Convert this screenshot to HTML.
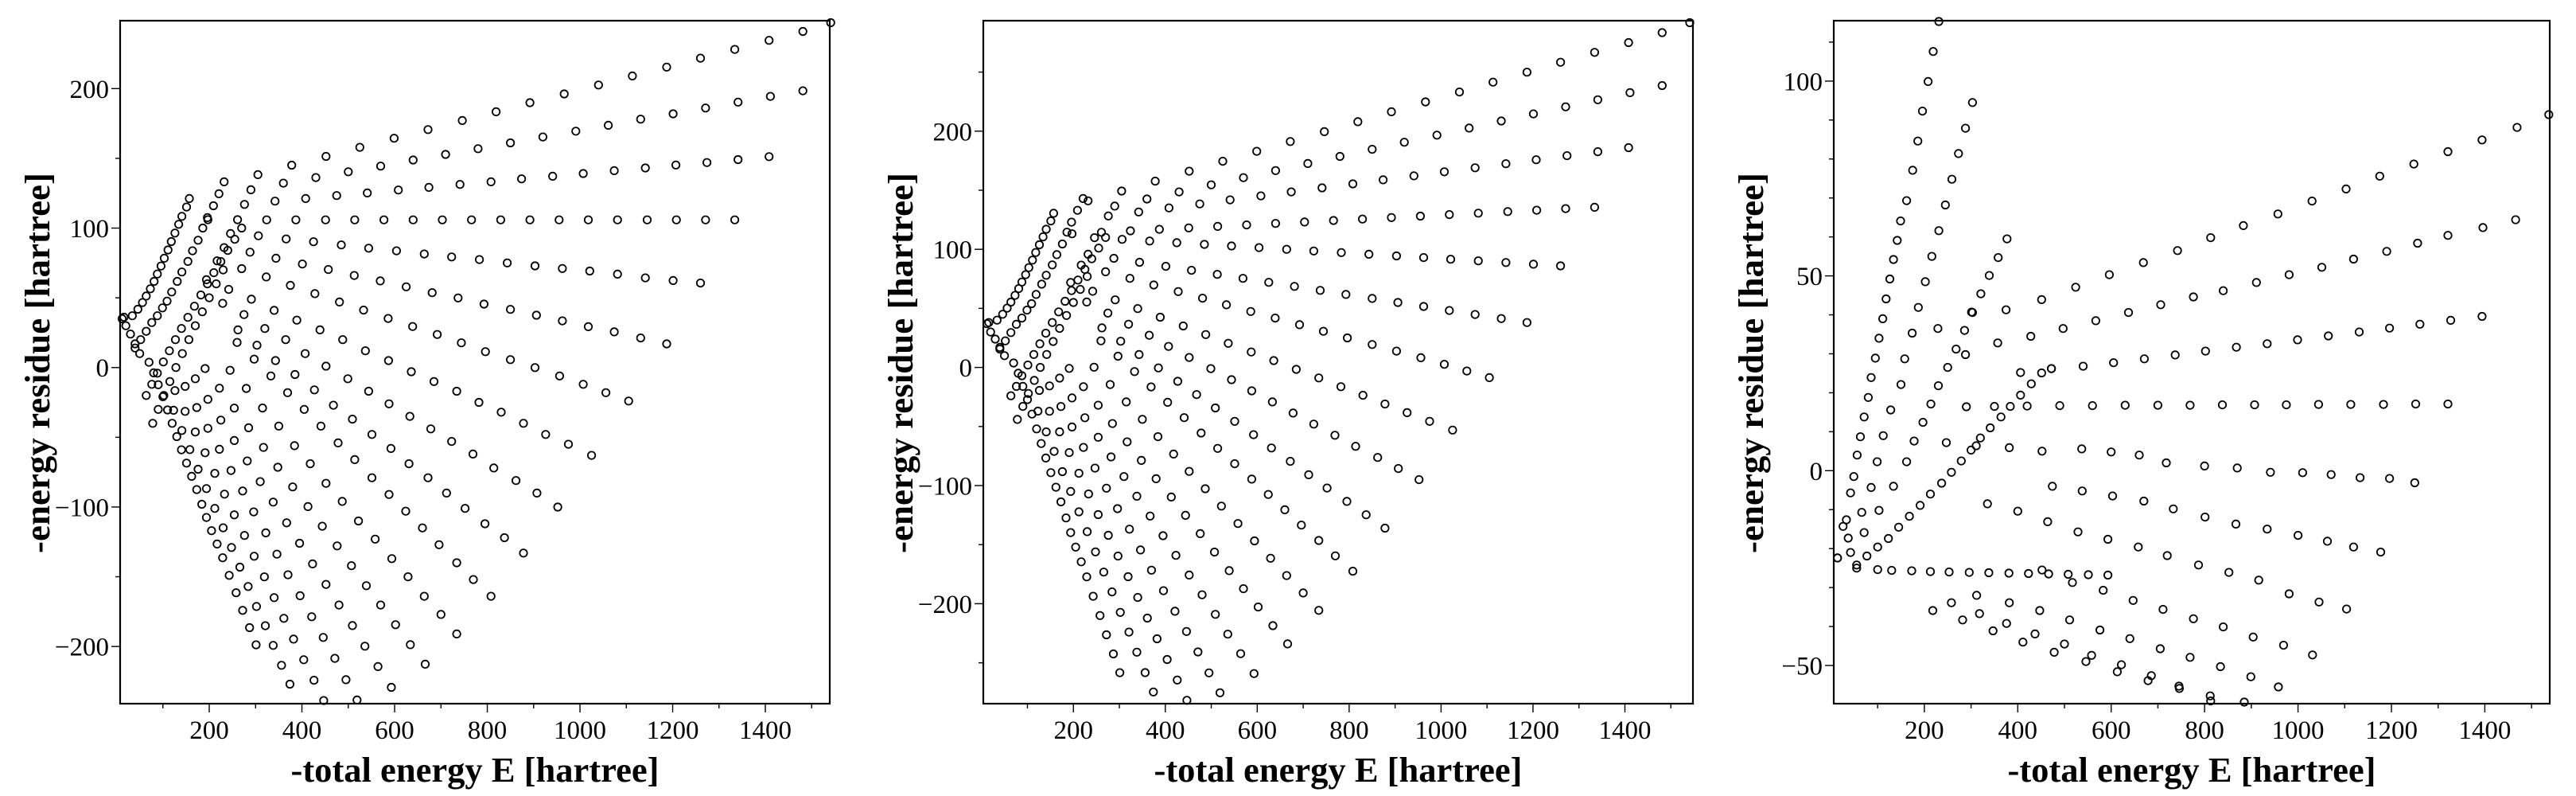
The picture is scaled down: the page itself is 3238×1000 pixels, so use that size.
<!DOCTYPE html>
<html><head><meta charset="utf-8">
<style>
html,body{margin:0;padding:0;background:#fff;}
svg{display:block;}
text{font-family:"Liberation Serif","DejaVu Serif",serif;fill:#000;}
.tick{font-size:33px;}
.title{font-size:44px;font-weight:bold;}
</style></head>
<body>
<svg id="fig" xmlns="http://www.w3.org/2000/svg" width="3238" height="1000" viewBox="0 0 3238 1000">
<rect x="0" y="0" width="3238" height="1000" fill="#fff"/>
</svg>
<script>
// ---------- shared tick labels ----------
const xTickValues = [200,400,600,800,1000,1200,1400];
const yTicksWide = [-200,-100,0,100,200];
const yTicksNarrow = [-50,0,50,100];

// ---------- energies shared by panel 1 and 2 ----------
const eRay1 = [1541,1481,1408,1334,1260,1187,1113,1040,966,892,819,746,672,599,525,452,378,305,232];
const eRay2 = [1481,1411,1341,1271,1201,1131,1061,991,920,850,780,710,640,570,500,430,360,290];
const eRay3 = [1408,1341,1274,1207,1141,1074,1007,941,874,808,741,674,608,541,475,408,342,276];
const eRay4 = [1334,1271,1208,1145,1081,1018,955,892,829,766,703,640,577,514,451,387,324,261,197];
const eRay5 = [1260,1201,1141,1081,1021,962,903,843,783,723,664,604,544,485,425,366,306,246];
const eRay6 = [1187,1131,1074,1018,962,906,850,793,737,681,625,569,513,457,401,344,288,232];
const eRay7 = [1105,1056,1007,956,903,850,796,744,692,639,586,533,481,428,375,323,270,217];
const eRay8 = [1025,975,926,878,830,782,734,685,636,587,537,488,439,389,340,291,242,194];
const eRay9 = [952,907,862,814,769,723,678,633,588,544,499,452,407,365,320,275,229];
const eRay10 = [878,837,795,752,712,672,631,592,551,509,468,427,385,343,303,262];
const eRay11 = [808,770,734,696,660,624,588,551,514,478,441,405,369,333,297,260];
const eRay12 = [734,700,664,629,594,558,522,487,452,418,384,350,315,280,245];
const eRay13 = [666,634,602,570,539,507,476,444,413,380,348,317,285,254,222,191];
const eRay14 = [593,564,536,509,480,452,423,395,367,338,310,282,254,225,197,170];
const eRay15 = [519,495,471,446,421,396,370,346,322,296,272,247,222,197,173,148];
const eRay16 = [447,426,404,382,361,340,319,297,276,254,233,212,191,170,148,126];
const eRay17 = [374,356,338,321,302,284,266,248,230,212,194,176,158,141,123];
const eRay18 = [301,287,272,258,243,229,217,205,194,184,173,162,151,140,130,120,110,100,90,80,70];
const eS1 = [157,151,141,134,126,118,111,103,96,88,81,73,64,56,46,34,16];
const eS2 = [221,209,196,186,176,164,154,141,131,119,109,99,88,76,64,52,40];
const eS3 = [270,255,240,225,210,196,182,168,154,140,127,114,101,88,76,64];
const eS4 = [230,215,200,185,170,156,142,128,115,102,90,78];
const eL = [50,40,30,20,12];

// ---------- panel 1 residues ----------
const p1Ray1 = [247.3,241,234.6,228.1,221.8,215.4,209.1,202.6,196.2,189.9,183.4,177.1,170.6,164.4,157.9,151.4,145.1,138.3,133.2];
const p1Ray2 = [198.4,194.4,190.3,186.1,181.9,178.1,173.7,169.5,165.3,161.1,156.9,152.8,148.8,144.4,140.4,136.2,132.2,127.5];
const p1Ray3 = [151.2,149.1,147.0,145.2,143.1,141.2,139.1,137.2,135.3,133.2,131.3,129.2,127.3,125.2,123.3,121.2,119.3,117.0];
const p1Ray4 = [105.9,105.9,105.9,105.9,105.9,105.9,105.9,105.9,105.9,105.9,105.9,105.9,105.9,105.9,105.9,105.9,105.9,106,106];
const p1Ray5 = [60.6,62.4,64.3,67.0,69.2,71.0,72.9,75.0,77.4,79.3,81.4,83.7,85.6,87.9,90.2,92.2,94.5,96.1];
const p1Ray6 = [17.0,21.2,25.6,29.3,33.5,37.5,41.7,45.5,49.9,53.7,57.9,62.1,66.0,70.3,74.2,78.4,82.7,86.0];
const p1Ray7 = [-24,-18,-12,-6,-0.05,5.7,11.4,17.7,23.7,29.4,35.2,41.2,47.0,53.0,58.9,65.0,70.9,76.5];
const p1Ray8 = [-63,-55,-48,-40,-32,-25,-17,-10,-3,5,12,20,27,34,41,49,56,63];
const p1Ray9 = [-100,-90,-81,-72,-62,-53,-44,-35,-26,-17,-8,1,10,20,28,38,46];
const p1Ray10 = [-133,-122,-112,-101,-90,-79,-69,-58,-48,-37,-27,-16,-5,5,16,27];
const p1Ray11 = [-164,-152,-140,-127,-115,-103,-91,-79,-66,-54,-42,-30,-18,-6,6,18];
const p1Ray12 = [-191,-177,-164,-150,-137,-123,-110,-96,-83,-69,-56,-42,-29,-15,-2];
const p1Ray13 = [-212.7,-198.7,-184.4,-170.3,-156.4,-142.1,-127.9,-113.8,-99.7,-85.6,-71.5,-57.3,-43.2,-29.1,-14.8,-0.7];
const p1Ray14 = [-229.3,-214.4,-199.8,-185,-170.3,-155.5,-140.8,-126,-111.3,-96.5,-81.8,-67,-52.3,-37.7,-22.8,-8];
const p1Ray15 = [-238.4,-223.8,-208.5,-193.5,-178.7,-163.6,-148.6,-133.8,-118.5,-103.5,-88.5,-73.8,-58.6,-43.6,-28.7,-13.5];
const p1Ray16 = [-238.8,-224.2,-209.5,-194.7,-179.8,-165,-150.1,-135.3,-120.4,-105.6,-90.8,-75.9,-61.1,-46.2,-31.4,-16.5];
const p1Ray17 = [-227,-213.5,-199.2,-185.1,-171.3,-157,-143.1,-129,-114.9,-101,-86.8,-72.9,-58.8,-45.1,-30.6];
const p1Ray18 = [-198.8,-186.5,-174.1,-161.5,-149,-136.4,-126.5,-117,-107.5,-98,-87.5,-78,-68.5,-59,-49.5,-40,-30.4,-20.9,-12.3,-3.8,3.8];
const p1S1 = [121.2,115.1,108.4,102.7,96.4,90.3,84.3,78.4,72.8,67.1,61.8,56.5,51.3,46.6,41.8,37.1,36.1];
const p1S2 = [124.6,116,107.5,100,91.3,83.7,76.1,68.5,61.8,54.2,47.6,42.8,37.1,32.3,26,20,14];
const p1S3 = [100,92,84,76,68,60,52,44,36,28,20,12,4,-4,-12,-20];
const p1S4 = [70,60,50,40,30,20,10,0,-10,-20,-30,-40];
const p1L = [10,17,24,30,35];

// ---------- panel 2 residues ----------
const p2Ray1 = [291.8,283.4,275.0,266.7,258.3,249.9,241.5,233.1,224.8,216.4,208.0,199.6,191.2,182.9,174.5,166.1,157.7,149.3,141.0];
const p2Ray2 = [238.6,232.6,226.6,220.6,214.6,208.6,202.6,196.6,190.6,184.6,178.6,172.6,166.6,160.6,154.6,148.6,142.6,136.6];
const p2Ray3 = [186,182.6,179.2,175.8,172.4,169,165.6,162.2,158.8,155.4,152,148.6,145.2,141.8,138.4,135,131.6,128.2];
const p2Ray4 = [135.6,134.4,133.1,131.9,130.6,129.4,128.1,126.9,125.6,124.4,123.1,121.9,120.6,119.4,118.1,116.9,115.6,114.4,113.1];
const p2Ray5 = [86,87.4,88.8,90.2,91.6,93,94.4,95.8,97.2,98.6,100,101.4,102.8,104.2,105.6,107,108.4,109.8];
const p2Ray6 = [38,41.4,44.8,48.2,51.6,55,58.4,61.8,65.2,68.6,72,75.4,78.8,82.2,85.6,89,92.4,95.8];
const p2Ray7 = [-8.6,-3,2.6,8.2,13.8,19.4,25,30.6,36.2,41.8,47.4,53,58.6,64.2,69.8,75.4,81,86.6];
const p2Ray8 = [-53,-45.6,-38.3,-31,-23.6,-16.3,-8.9,-1.6,5.8,13.1,20.4,27.8,35.1,42.5,49.8,57.2,64.5,71.9];
const p2Ray9 = [-95,-85.6,-76.2,-66.8,-57.4,-48,-38.6,-29.2,-19.8,-10.4,-1,8.4,17.8,27.2,36.6,46,55.4];
const p2Ray10 = [-136,-124.7,-113.4,-102.1,-90.8,-79.5,-68.2,-56.9,-45.6,-34.3,-23,-11.7,-0.4,10.9,22.2,33.5];
const p2Ray11 = [-172.5,-159.5,-146.5,-133.5,-120.5,-107.5,-94.5,-81.5,-68.5,-55.5,-42.5,-29.5,-16.5,-3.5,9.5,22.5];
const p2Ray12 = [-205.6,-190.9,-176.2,-161.5,-146.8,-132.1,-117.4,-102.7,-88,-73.3,-58.6,-43.9,-29.2,-14.5,0.2];
const p2Ray13 = [-234,-218.6,-202.8,-187.3,-172,-156.3,-140.7,-125.2,-109.7,-94.2,-78.7,-63,-47.5,-32,-16.3,-0.8];
const p2Ray14 = [-259.1,-242.3,-225.8,-209,-192.4,-175.7,-159.1,-142.4,-125.8,-109,-92.4,-75.7,-59.1,-42.6,-25.8,-9];
const p2Ray15 = [-275.4,-258.5,-240.8,-223.5,-206.4,-189,-171.6,-154.5,-136.9,-119.5,-102.2,-85.2,-67.7,-50.4,-33.1,-15.6];
const p2Ray16 = [-281.8,-264.6,-247.2,-229.7,-212.2,-194.7,-177.1,-159.7,-142.1,-124.6,-107.1,-89.6,-72.1,-54.5,-37.1,-19.5];
const p2Ray17 = [-274.7,-258.3,-241,-224,-207.3,-190,-173.2,-156.1,-139,-122.2,-105,-88.2,-71.1,-54.6,-37];
const p2Ray18 = [-258.4,-242.5,-226.3,-210,-193.7,-177.3,-164.5,-152.1,-139.8,-127.4,-113.8,-101.4,-89.1,-76.7,-64.4,-52,-39.5,-27.2,-16,-4.9,3.8];
const p2S1 = [130.5,124,117,110.5,103.8,97.3,90.8,84.5,78.5,72.3,66.7,61,55.3,50.2,45,40,38];
const p2S2 = [143,133,123,114.5,104.5,95.5,86.8,78,70.5,61.8,54,48.5,41.8,36.5,29.5,22.5,15.5];
const p2S3 = [110,101,92,83,74,65,56,47,38,29,20,11,2,-7,-16,-24];
const p2S4 = [77,66,55,44,33,22,11,0,-11,-22,-33,-44];
const p2L = [10,17,24,30,37];

// ---------- panel 3 (own energies + residues) ----------
const q1E = [1537,1469,1394,1321,1248,1175,1103,1030,957,883,813,742,669,596,524,451,375,301,229];
const q1R = [91.4,88.1,84.9,81.9,78.7,75.6,72.3,69.2,65.9,62.9,59.8,56.5,53.4,50.3,47.1,43.9,41.3,40.7,36.5];
const q2E = [1466,1396,1321,1256,1190,1119,1051,981,911,840,776,706,637,567,497,428,357,288];
const q2R = [64.4,62.4,60.4,58.4,56.3,54.3,52.2,50.3,48.3,46.2,44.6,42.6,40.6,38.5,36.5,34.5,32.8,29.8];
const q3E = [1394,1327,1261,1196,1131,1065,999,934,868,802,737,671,605,540,472,406];
const q3R = [39.6,38.6,37.6,36.6,35.6,34.6,33.6,32.6,31.7,30.7,29.7,28.7,27.7,26.8,26.2,25.2];
const q4E = [1321,1252,1183,1113,1044,975,907,838,769,700,630,560,490,420,350,290];
const q4R = [17.1,17.1,17,17,17,16.9,16.9,16.9,16.8,16.8,16.8,16.7,16.7,16.6,16.5,16.4];
const zE = [1250,1196,1133,1071,1010,941,870,800,718,660,600,537,452,382,311,247];
const zR = [-3.1,-2,-1.8,-1,-0.5,-0.4,0.7,1.2,2,4,4.8,5.6,5,5.9,6.4,7.2];
const d1E = [1177,1119,1063,1000,934,867,801,733,670,603,538,474];
const d1R = [-20.9,-19.6,-18.1,-16.6,-15,-13.7,-11.9,-9.8,-7.8,-6.5,-5.2,-4];
const d2E = [1104,1045,981,916,852,787,720,658,593,529,464,400,335];
const d2R = [-35.5,-33.7,-31.6,-28.1,-26.1,-24.2,-21.8,-19.6,-17.6,-15.7,-13.1,-10.4,-8.5];
const d3E = [1031,969,904,840,776,711,647,583,517,452];
const d3R = [-47.3,-44.8,-42.7,-40.1,-38,-35.6,-33.3,-30.7,-28.7,-25.5];
const d4E = [958,899,834,769,705,640,576,511,447,382,312];
const d4R = [-55.5,-52.9,-50.3,-47.9,-45.7,-43.1,-40.9,-38.3,-35.9,-33.9,-32];
const d5E = [885,813,746,679,613,546,478,411,347,282,218];
const d5R = [-59.4,-59.1,-55.9,-53.9,-51.6,-49,-46.6,-44,-41.1,-38.3,-35.9];
const d6E = [812,745,686,622,558,500,437,376,318,258];
const d6R = [-57.8,-55.3,-52.6,-49.8,-47.4,-44.5,-41.9,-39.2,-36.7,-33.9];
const d0E = [14,55,100,130,173,213,253,296,338,381,423,466,508,551,593];
const d0R = [-22.4,-25,-25.4,-25.6,-25.7,-25.9,-26,-26.1,-26.2,-26.3,-26.4,-26.5,-26.6,-26.7,-26.8];
const u1E = [231,219,208,196,186,175,162,149,142,134,126,118,111,103,95,86,80,71,63,56,49,42,33,26,14];
const u1R = [115.3,107.6,99.9,92.3,84.6,77.1,69.3,64.1,59.1,54.2,49.2,44.1,39,34,28.9,23.9,18.8,13.8,8.7,4,-1.5,-5.7,-12.6,-14.3,-22.4];
const u2E = [303,288,273,259,245,231,216,202,187,174,158,150,128,112,99,86,66,37];
const u2R = [94.5,87.9,81.4,74.8,68.2,61.6,55,48.5,41.9,35.3,28.7,22.1,15.6,9,2.3,-4.3,-10.7,-17.3];
const u3E = [377,358,339,321,303,286,268,250,230,214,197,178,162,134,103,71,42];
const u3R = [59.5,54.7,50.1,45.4,40.6,36,31.2,26.5,21.8,17.1,12.4,7.6,2.3,-4,-10.2,-15.9,-21];
const u4E = [472,451,429,406,384,364,341,320,300,279,258,237,213,191,168,145,123,100,77,55];
const u4R = [26.2,25.1,22.3,19.4,16.5,13.8,11,8.4,5.3,2.5,-0.4,-3.2,-6,-8.9,-11.7,-14.5,-17.4,-19.6,-21.9,-24.2];

const SVGNS = "http://www.w3.org/2000/svg";
const svg = document.getElementById('fig');

function mk(tag, attrs, parent) {
  const el = document.createElementNS(SVGNS, tag);
  for (const k in attrs) el.setAttribute(k, attrs[k]);
  parent.appendChild(el);
  return el;
}
function fmt(v) { return v < 0 ? '\u2212' + Math.abs(v) : String(v); }

function drawPanel(id, box, xDom, yDom, yTicks, yMinorStep, pairs) {
  const g = mk('g', {}, svg);
  
  
  const xs = v => box.l + (v - xDom[0]) / (xDom[1] - xDom[0]) * (box.r - box.l);
  const ys = v => box.b - (v - yDom[0]) / (yDom[1] - yDom[0]) * (box.b - box.t);

  const pg = mk('g', {}, g);
  
  
  pairs.forEach((p, si) => {
    const sg = mk('g', {}, pg);
    
    
    for (let i = 0; i < p[0].length; i++) {
      const c = mk('circle', {cx: xs(p[0][i]).toFixed(1), cy: ys(p[1][i]).toFixed(1), r: 4.7, fill: 'none', stroke: '#000', 'stroke-width': 1.8}, sg);
      
      
    }
  });

  const fr = mk('rect', {x: box.l, y: box.t, width: box.r - box.l, height: box.b - box.t, fill: 'none', stroke: '#000', 'stroke-width': 2.2}, g);
  
  

  const xg = mk('g', {}, g);
  
  
  for (let v = 100; v <= 1500; v += 100) {
    const major = xTickValues.indexOf(v) >= 0;
    mk('line', {x1: xs(v), x2: xs(v), y1: box.b, y2: box.b + (major ? 11 : 6), stroke: '#000', 'stroke-width': 1.4}, xg);
  }
  xTickValues.forEach(v => {
    const t = mk('text', {x: xs(v), y: box.b + 44, 'text-anchor': 'middle', class: 'tick'}, xg);
    t.textContent = fmt(v);
    
    
  });
  const yg = mk('g', {}, g);
  
  
  const start = Math.ceil(yDom[0] / yMinorStep) * yMinorStep;
  for (let v = start; v <= yDom[1]; v += yMinorStep) {
    const major = yTicks.indexOf(v) >= 0;
    mk('line', {x1: box.l - (major ? 11 : 6), x2: box.l, y1: ys(v), y2: ys(v), stroke: '#000', 'stroke-width': 1.4}, yg);
  }
  yTicks.forEach(v => {
    const t = mk('text', {x: box.l - 14, y: ys(v) + 11.5, 'text-anchor': 'end', class: 'tick'}, yg);
    t.textContent = fmt(v);
    
    
  });
  const xt = mk('text', {x: (box.l + box.r) / 2, y: 982, 'text-anchor': 'middle', class: 'title', textLength: 463, lengthAdjust: 'spacingAndGlyphs'}, g);
  xt.textContent = '-total energy E [hartree]';
  
  
  const cy = 456, cx = box.l - 89;
  const yt = mk('text', {x: cx, y: cy, 'text-anchor': 'middle', class: 'title', transform: 'rotate(-90 ' + cx + ' ' + cy + ')', textLength: 478, lengthAdjust: 'spacingAndGlyphs'}, g);
  yt.textContent = '-energy residue [hartree]';
  
  
}

const eAll = [eRay1,eRay2,eRay3,eRay4,eRay5,eRay6,eRay7,eRay8,eRay9,eRay10,eRay11,eRay12,eRay13,eRay14,eRay15,eRay16,eRay17,eRay18,eS1,eS2,eS3,eS4,eL];
const p1All = [p1Ray1,p1Ray2,p1Ray3,p1Ray4,p1Ray5,p1Ray6,p1Ray7,p1Ray8,p1Ray9,p1Ray10,p1Ray11,p1Ray12,p1Ray13,p1Ray14,p1Ray15,p1Ray16,p1Ray17,p1Ray18,p1S1,p1S2,p1S3,p1S4,p1L];
const p2All = [p2Ray1,p2Ray2,p2Ray3,p2Ray4,p2Ray5,p2Ray6,p2Ray7,p2Ray8,p2Ray9,p2Ray10,p2Ray11,p2Ray12,p2Ray13,p2Ray14,p2Ray15,p2Ray16,p2Ray17,p2Ray18,p2S1,p2S2,p2S3,p2S4,p2L];

drawPanel('panel-1', {l:151, r:1043, t:26, b:884}, [7.7, 1539], [-241, 248.7], yTicksWide, 50,
  eAll.map((e, i) => [e, p1All[i]]));
drawPanel('panel-2', {l:1236, r:2128, t:26, b:884}, [4, 1548], [-284.6, 293.5], yTicksWide, 50,
  eAll.map((e, i) => [e, p2All[i]]));
drawPanel('panel-3', {l:2305, r:3205, t:26, b:884}, [6, 1539], [-59.8, 115.5], yTicksNarrow, 10,
  [[q1E,q1R],[q2E,q2R],[q3E,q3R],[q4E,q4R],[zE,zR],[d1E,d1R],[d2E,d2R],[d3E,d3R],[d4E,d4R],[d5E,d5R],[d6E,d6R],[d0E,d0R],[u1E,u1R],[u2E,u2R],[u3E,u3R],[u4E,u4R]]);
</script>
</body></html>
